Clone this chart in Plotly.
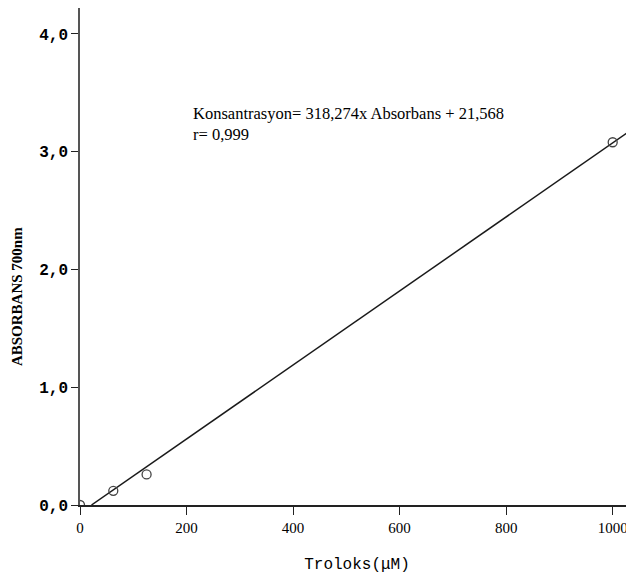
import plotly.graph_objects as go

# Data
troloks = [0, 62.5, 125, 1000]
absorbans = [0.0, 0.12, 0.26, 3.08]
slope = 318.274
intercept = 21.568
line_x = [intercept, 1040]
x_ticks = [0, 200, 400, 600, 800, 1000]
y_ticks = [0, 1, 2, 3, 4]
y_tick_labels = ["0,0", "1,0", "2,0", "3,0", "4,0"]

line_y = [(x - intercept) / slope for x in line_x]

SERIF = "Liberation Serif, Times New Roman, serif"
MONO = "Liberation Mono, Courier New, monospace"

fig = go.Figure()
fig.add_trace(go.Scatter(x=line_x, y=line_y, mode="lines",
                         line=dict(color="#1a1a1a", width=1.5),
                         showlegend=False, hoverinfo="skip"))
fig.add_trace(go.Scatter(x=troloks, y=absorbans, mode="markers",
                         marker=dict(symbol="circle-open", size=9,
                                     color="#444444", line=dict(width=1.3)),
                         showlegend=False))

fig.add_annotation(x=0.2, y=0.81, xref="paper", yref="paper",
                   text="Konsantrasyon= 318,274x Absorbans + 21,568<br>r= 0,999",
                   showarrow=False, xanchor="left", yanchor="top", align="left",
                   font=dict(family=SERIF, size=16.5, color="black"))

# y-axis title (placed lower than axis centre, as in the reference)
fig.add_annotation(x=-0.114, y=0.42, xref="paper", yref="paper",
                   text="<b>ABSORBANS 700nm</b>", textangle=-90,
                   showarrow=False, xanchor="center", yanchor="middle",
                   font=dict(family=SERIF, size=15, color="black"))

fig.update_layout(
    width=626, height=570,
    margin=dict(l=72, r=0, t=0, b=73),
    plot_bgcolor="white", paper_bgcolor="white",
    xaxis=dict(range=[0, 1040], tickvals=x_ticks, ticks="outside", ticklen=8,
               tickcolor="#222", showline=True, linecolor="#222", linewidth=1.5,
               showgrid=False, zeroline=False,
               tickfont=dict(family=SERIF, size=15, color="black"),
               title=dict(text="Troloks(μM)", standoff=23,
                          font=dict(family=MONO, size=16, color="black"))),
    yaxis=dict(range=[0, 4.22], tickvals=y_ticks, ticktext=y_tick_labels,
               ticks="outside", ticklen=7, tickcolor="#222",
               showline=True, linecolor="#555", linewidth=1.5,
               showgrid=False, zeroline=False,
               tickfont=dict(family=MONO, size=16, color="black", weight="bold")),
)

fig.write_html("out.html")
